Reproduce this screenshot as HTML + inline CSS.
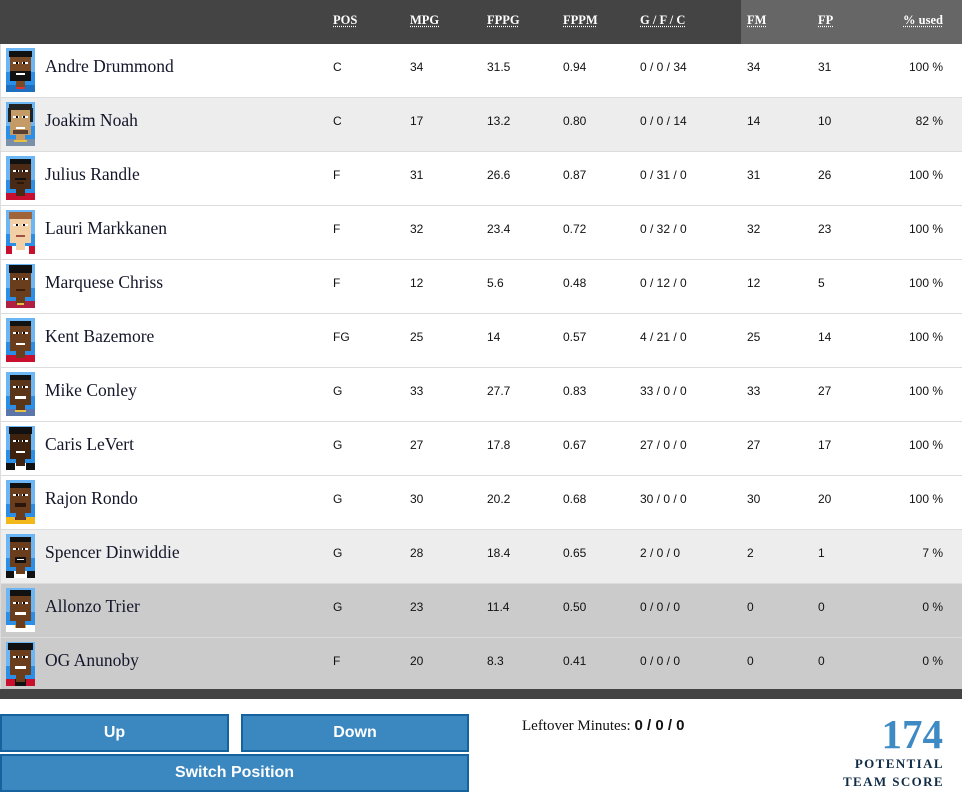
<!DOCTYPE html>
<html><head><meta charset="utf-8"><style>
*{margin:0;padding:0;box-sizing:border-box}
body{width:962px;height:803px;background:#fff;position:relative;overflow:hidden;font-family:"Liberation Sans",Arial,sans-serif}
.hdr{position:absolute;left:0;top:0;width:962px;height:44px;background:#444}
.hdr2{position:absolute;left:741px;top:0;width:221px;height:44px;background:#666}
.h{position:absolute;top:12px;font-family:"Liberation Serif",serif;font-weight:bold;font-size:12.5px;color:#fff;line-height:16px;text-decoration:underline dotted;text-underline-offset:2px}
.row{position:absolute;left:0;width:962px;height:54px;border-bottom:1px solid #dcdcdc;border-left:1px solid #dcdcdc}
.row svg{position:absolute;left:5px;top:4px}
.nm{position:absolute;left:44px;top:12px;font-family:"Liberation Serif",serif;font-size:17.5px;line-height:20px;color:#14162a}
.d{position:absolute;top:16px;font-size:12px;line-height:14px;color:#111}
.c1{left:332px}.c2{left:409px}.c3{left:486px}.c4{left:562px}.c5{left:639px}.c6{left:746px}.c7{left:817px}
.c8{right:19px;text-align:right}
.bar{position:absolute;left:0;top:689px;width:962px;height:10px;background:#444}
.btn{position:absolute;background:#3b87c0;border:2px solid #16629e;color:#fff;font-weight:bold;font-size:16px;text-align:center}
</style></head><body>
<div class="hdr"></div><div class="hdr2"></div>
<span class="h" style="left:333px">POS</span>
<span class="h" style="left:410px">MPG</span>
<span class="h" style="left:487px">FPPG</span>
<span class="h" style="left:563px">FPPM</span>
<span class="h" style="left:640px">G / F / C</span>
<span class="h" style="left:747px">FM</span>
<span class="h" style="left:818px">FP</span>
<span class="h" style="right:19px">% used</span>

<div class="row" style="top:44px;background:#fff">
<svg width="29" height="44" viewBox="0 0 29 44" shape-rendering="crispEdges"><rect width="29" height="44" fill="#6cb6f5"/><rect y="24" width="29" height="20" fill="#2b8fe8"/><rect y="37" width="29" height="7" fill="#1f6fc0"/><rect x="10" y="32" width="9" height="8" fill="#7a4a24"/><rect x="4" y="5" width="21" height="28" fill="#7a4a24"/><rect x="3" y="3" width="23" height="6" fill="#111"/><rect x="4" y="23" width="21" height="10" fill="#111"/><rect x="10" y="25" width="9" height="2" fill="#fff"/><rect x="7" y="14" width="6" height="2" fill="#fff"/><rect x="10" y="14" width="2" height="2" fill="#000"/><rect x="16" y="14" width="6" height="2" fill="#fff"/><rect x="17" y="14" width="2" height="2" fill="#000"/><rect x="10" y="39" width="9" height="2" fill="#d33"/></svg>
<span class="nm">Andre Drummond</span><span class="d c1">C</span><span class="d c2">34</span><span class="d c3">31.5</span><span class="d c4">0.94</span><span class="d c5">0 / 0 / 34</span><span class="d c6">34</span><span class="d c7">31</span><span class="d c8">100 %</span></div>

<div class="row" style="top:98px;background:#ededed">
<svg width="29" height="44" viewBox="0 0 29 44" shape-rendering="crispEdges"><rect width="29" height="44" fill="#6cb6f5"/><rect y="24" width="29" height="20" fill="#2b8fe8"/><rect y="37" width="29" height="7" fill="#7a8fa8"/><rect x="10" y="32" width="9" height="8" fill="#c49a66"/><rect x="4" y="5" width="21" height="28" fill="#c49a66"/><rect x="3" y="2" width="23" height="6" fill="#222"/><rect x="2" y="6" width="3" height="14" fill="#222"/><rect x="24" y="6" width="3" height="14" fill="#222"/><rect x="7" y="14" width="6" height="2" fill="#fff"/><rect x="10" y="14" width="2" height="2" fill="#000"/><rect x="16" y="14" width="6" height="2" fill="#fff"/><rect x="17" y="14" width="2" height="2" fill="#000"/><rect x="10" y="25" width="9" height="2" fill="#fff"/><rect x="7" y="28" width="15" height="4" fill="#5a4030"/><rect x="8" y="38" width="13" height="2" fill="#e8c040"/></svg>
<span class="nm">Joakim Noah</span><span class="d c1">C</span><span class="d c2">17</span><span class="d c3">13.2</span><span class="d c4">0.80</span><span class="d c5">0 / 0 / 14</span><span class="d c6">14</span><span class="d c7">10</span><span class="d c8">82 %</span></div>

<div class="row" style="top:152px;background:#fff">
<svg width="29" height="44" viewBox="0 0 29 44" shape-rendering="crispEdges"><rect width="29" height="44" fill="#6cb6f5"/><rect y="24" width="29" height="20" fill="#2b8fe8"/><rect y="37" width="29" height="7" fill="#c8102e"/><rect x="10" y="32" width="9" height="8" fill="#4a2a14"/><rect x="4" y="5" width="21" height="28" fill="#4a2a14"/><rect x="4" y="3" width="21" height="5" fill="#111"/><rect x="7" y="14" width="6" height="2" fill="#fff"/><rect x="10" y="14" width="2" height="2" fill="#000"/><rect x="16" y="14" width="6" height="2" fill="#fff"/><rect x="17" y="14" width="2" height="2" fill="#000"/><rect x="9" y="22" width="11" height="2" fill="#111"/><rect x="11" y="26" width="7" height="2" fill="#2a160a"/></svg>
<span class="nm">Julius Randle</span><span class="d c1">F</span><span class="d c2">31</span><span class="d c3">26.6</span><span class="d c4">0.87</span><span class="d c5">0 / 31 / 0</span><span class="d c6">31</span><span class="d c7">26</span><span class="d c8">100 %</span></div>

<div class="row" style="top:206px;background:#fff">
<svg width="29" height="44" viewBox="0 0 29 44" shape-rendering="crispEdges"><rect width="29" height="44" fill="#6cb6f5"/><rect y="24" width="29" height="20" fill="#2b8fe8"/><rect y="36" width="29" height="8" fill="#c8102e"/><rect x="6" y="36" width="17" height="8" fill="#fff"/><rect x="10" y="32" width="9" height="8" fill="#f3cfa6"/><rect x="4" y="5" width="21" height="28" fill="#f3cfa6"/><rect x="3" y="2" width="23" height="7" fill="#a0643a"/><rect x="7" y="14" width="6" height="2" fill="#fff"/><rect x="10" y="14" width="2" height="2" fill="#000"/><rect x="16" y="14" width="6" height="2" fill="#fff"/><rect x="17" y="14" width="2" height="2" fill="#000"/><rect x="10" y="25" width="9" height="2" fill="#a05040"/></svg>
<span class="nm">Lauri Markkanen</span><span class="d c1">F</span><span class="d c2">32</span><span class="d c3">23.4</span><span class="d c4">0.72</span><span class="d c5">0 / 32 / 0</span><span class="d c6">32</span><span class="d c7">23</span><span class="d c8">100 %</span></div>

<div class="row" style="top:260px;background:#fff">
<svg width="29" height="44" viewBox="0 0 29 44" shape-rendering="crispEdges"><rect width="29" height="44" fill="#6cb6f5"/><rect y="24" width="29" height="20" fill="#2b8fe8"/><rect y="37" width="29" height="7" fill="#b02040"/><rect x="10" y="32" width="9" height="8" fill="#6a3e1c"/><rect x="4" y="5" width="21" height="28" fill="#6a3e1c"/><rect x="3" y="1" width="23" height="8" fill="#111"/><rect x="7" y="14" width="6" height="2" fill="#fff"/><rect x="10" y="14" width="2" height="2" fill="#000"/><rect x="16" y="14" width="6" height="2" fill="#fff"/><rect x="17" y="14" width="2" height="2" fill="#000"/><rect x="10" y="25" width="9" height="2" fill="#3a1e0a"/><rect x="11" y="39" width="7" height="2" fill="#e8c040"/></svg>
<span class="nm">Marquese Chriss</span><span class="d c1">F</span><span class="d c2">12</span><span class="d c3">5.6</span><span class="d c4">0.48</span><span class="d c5">0 / 12 / 0</span><span class="d c6">12</span><span class="d c7">5</span><span class="d c8">100 %</span></div>

<div class="row" style="top:314px;background:#fff">
<svg width="29" height="44" viewBox="0 0 29 44" shape-rendering="crispEdges"><rect width="29" height="44" fill="#6cb6f5"/><rect y="24" width="29" height="20" fill="#2b8fe8"/><rect y="37" width="29" height="7" fill="#c8102e"/><rect x="10" y="32" width="9" height="8" fill="#6a3e1c"/><rect x="4" y="5" width="21" height="28" fill="#6a3e1c"/><rect x="4" y="3" width="21" height="5" fill="#111"/><rect x="7" y="14" width="6" height="2" fill="#fff"/><rect x="10" y="14" width="2" height="2" fill="#000"/><rect x="16" y="14" width="6" height="2" fill="#fff"/><rect x="17" y="14" width="2" height="2" fill="#000"/><rect x="10" y="25" width="9" height="2" fill="#fff"/></svg>
<span class="nm">Kent Bazemore</span><span class="d c1">FG</span><span class="d c2">25</span><span class="d c3">14</span><span class="d c4">0.57</span><span class="d c5">4 / 21 / 0</span><span class="d c6">25</span><span class="d c7">14</span><span class="d c8">100 %</span></div>

<div class="row" style="top:368px;background:#fff">
<svg width="29" height="44" viewBox="0 0 29 44" shape-rendering="crispEdges"><rect width="29" height="44" fill="#6cb6f5"/><rect y="24" width="29" height="20" fill="#2b8fe8"/><rect y="37" width="29" height="7" fill="#5d76a9"/><rect x="10" y="32" width="9" height="8" fill="#5a3518"/><rect x="4" y="5" width="21" height="28" fill="#5a3518"/><rect x="4" y="3" width="21" height="5" fill="#111"/><rect x="7" y="14" width="6" height="2" fill="#fff"/><rect x="10" y="14" width="2" height="2" fill="#000"/><rect x="16" y="14" width="6" height="2" fill="#fff"/><rect x="17" y="14" width="2" height="2" fill="#000"/><rect x="9" y="24" width="11" height="3" fill="#fff"/><rect x="9" y="38" width="11" height="2" fill="#e8c040"/></svg>
<span class="nm">Mike Conley</span><span class="d c1">G</span><span class="d c2">33</span><span class="d c3">27.7</span><span class="d c4">0.83</span><span class="d c5">33 / 0 / 0</span><span class="d c6">33</span><span class="d c7">27</span><span class="d c8">100 %</span></div>

<div class="row" style="top:422px;background:#fff">
<svg width="29" height="44" viewBox="0 0 29 44" shape-rendering="crispEdges"><rect width="29" height="44" fill="#6cb6f5"/><rect y="24" width="29" height="20" fill="#2b8fe8"/><rect y="37" width="29" height="7" fill="#111"/><rect x="9" y="37" width="11" height="7" fill="#fff"/><rect x="10" y="32" width="9" height="8" fill="#3e220e"/><rect x="4" y="5" width="21" height="28" fill="#3e220e"/><rect x="3" y="1" width="23" height="7" fill="#111"/><rect x="7" y="14" width="6" height="2" fill="#fff"/><rect x="10" y="14" width="2" height="2" fill="#000"/><rect x="16" y="14" width="6" height="2" fill="#fff"/><rect x="17" y="14" width="2" height="2" fill="#000"/><rect x="10" y="25" width="9" height="2" fill="#fff"/></svg>
<span class="nm">Caris LeVert</span><span class="d c1">G</span><span class="d c2">27</span><span class="d c3">17.8</span><span class="d c4">0.67</span><span class="d c5">27 / 0 / 0</span><span class="d c6">27</span><span class="d c7">17</span><span class="d c8">100 %</span></div>

<div class="row" style="top:476px;background:#fff">
<svg width="29" height="44" viewBox="0 0 29 44" shape-rendering="crispEdges"><rect width="29" height="44" fill="#6cb6f5"/><rect y="24" width="29" height="20" fill="#2b8fe8"/><rect y="37" width="29" height="7" fill="#f2b81a"/><rect x="9" y="37" width="11" height="3" fill="#552583"/><rect x="10" y="32" width="9" height="8" fill="#6a3e1c"/><rect x="4" y="5" width="21" height="28" fill="#6a3e1c"/><rect x="4" y="3" width="21" height="5" fill="#111"/><rect x="7" y="14" width="6" height="2" fill="#fff"/><rect x="10" y="14" width="2" height="2" fill="#000"/><rect x="16" y="14" width="6" height="2" fill="#fff"/><rect x="17" y="14" width="2" height="2" fill="#000"/><rect x="9" y="23" width="11" height="4" fill="#2a160a"/></svg>
<span class="nm">Rajon Rondo</span><span class="d c1">G</span><span class="d c2">30</span><span class="d c3">20.2</span><span class="d c4">0.68</span><span class="d c5">30 / 0 / 0</span><span class="d c6">30</span><span class="d c7">20</span><span class="d c8">100 %</span></div>

<div class="row" style="top:530px;background:#ededed">
<svg width="29" height="44" viewBox="0 0 29 44" shape-rendering="crispEdges"><rect width="29" height="44" fill="#6cb6f5"/><rect y="24" width="29" height="20" fill="#2b8fe8"/><rect y="37" width="29" height="7" fill="#111"/><rect x="8" y="37" width="13" height="7" fill="#fff"/><rect x="10" y="32" width="9" height="8" fill="#6a3e1c"/><rect x="4" y="5" width="21" height="28" fill="#6a3e1c"/><rect x="4" y="3" width="21" height="5" fill="#111"/><rect x="7" y="14" width="6" height="2" fill="#fff"/><rect x="10" y="14" width="2" height="2" fill="#000"/><rect x="16" y="14" width="6" height="2" fill="#fff"/><rect x="17" y="14" width="2" height="2" fill="#000"/><rect x="9" y="23" width="11" height="6" fill="#111"/><rect x="11" y="25" width="7" height="1" fill="#fff"/></svg>
<span class="nm">Spencer Dinwiddie</span><span class="d c1">G</span><span class="d c2">28</span><span class="d c3">18.4</span><span class="d c4">0.65</span><span class="d c5">2 / 0 / 0</span><span class="d c6">2</span><span class="d c7">1</span><span class="d c8">7 %</span></div>

<div class="row" style="top:584px;background:#cbcbcb">
<svg width="29" height="44" viewBox="0 0 29 44" shape-rendering="crispEdges"><rect width="29" height="44" fill="#6cb6f5"/><rect y="24" width="29" height="20" fill="#2b8fe8"/><rect y="37" width="29" height="7" fill="#fff"/><rect x="9" y="37" width="11" height="3" fill="#f2a81a"/><rect x="10" y="32" width="9" height="8" fill="#6a3e1c"/><rect x="4" y="5" width="21" height="28" fill="#6a3e1c"/><rect x="4" y="2" width="21" height="6" fill="#111"/><rect x="7" y="14" width="6" height="2" fill="#fff"/><rect x="10" y="14" width="2" height="2" fill="#000"/><rect x="16" y="14" width="6" height="2" fill="#fff"/><rect x="17" y="14" width="2" height="2" fill="#000"/><rect x="9" y="24" width="11" height="3" fill="#fff"/></svg>
<span class="nm">Allonzo Trier</span><span class="d c1">G</span><span class="d c2">23</span><span class="d c3">11.4</span><span class="d c4">0.50</span><span class="d c5">0 / 0 / 0</span><span class="d c6">0</span><span class="d c7">0</span><span class="d c8">0 %</span></div>

<div class="row" style="top:638px;background:#cbcbcb">
<svg width="29" height="44" viewBox="0 0 29 44" shape-rendering="crispEdges"><rect width="29" height="44" fill="#6cb6f5"/><rect y="24" width="29" height="20" fill="#2b8fe8"/><rect y="37" width="29" height="7" fill="#c8102e"/><rect x="9" y="37" width="11" height="7" fill="#111"/><rect x="10" y="32" width="9" height="8" fill="#6a3e1c"/><rect x="4" y="5" width="21" height="28" fill="#6a3e1c"/><rect x="2" y="1" width="25" height="7" fill="#111"/><rect x="7" y="14" width="6" height="2" fill="#fff"/><rect x="10" y="14" width="2" height="2" fill="#000"/><rect x="16" y="14" width="6" height="2" fill="#fff"/><rect x="17" y="14" width="2" height="2" fill="#000"/><rect x="9" y="24" width="11" height="3" fill="#fff"/></svg>
<span class="nm">OG Anunoby</span><span class="d c1">F</span><span class="d c2">20</span><span class="d c3">8.3</span><span class="d c4">0.41</span><span class="d c5">0 / 0 / 0</span><span class="d c6">0</span><span class="d c7">0</span><span class="d c8">0 %</span></div>

<div class="bar"></div>

<div class="btn" style="left:0;top:714px;width:229px;height:38px;line-height:34px">Up</div>
<div class="btn" style="left:241px;top:714px;width:228px;height:38px;line-height:34px">Down</div>
<div class="btn" style="left:0;top:754px;width:469px;height:38px;line-height:34px">Switch Position</div>

<div style="position:absolute;left:522px;top:716px;font-family:'Liberation Serif',serif;font-size:15px;line-height:20px;color:#111;white-space:nowrap">Leftover Minutes: <b style="font-family:'Liberation Sans',sans-serif;font-size:15px;color:#111">0 / 0 / 0</b></div>

<div style="position:absolute;right:19px;top:711px;font-family:'Liberation Serif',serif;font-weight:bold;font-size:41px;line-height:46px;color:#3d8ac4;text-align:right">174</div>
<div style="position:absolute;right:18px;top:755px;font-family:'Liberation Serif',serif;font-weight:bold;font-size:13px;line-height:18px;letter-spacing:1.4px;color:#0f2b45;text-align:right;white-space:nowrap">POTENTIAL<br>TEAM SCORE</div>
</body></html>
